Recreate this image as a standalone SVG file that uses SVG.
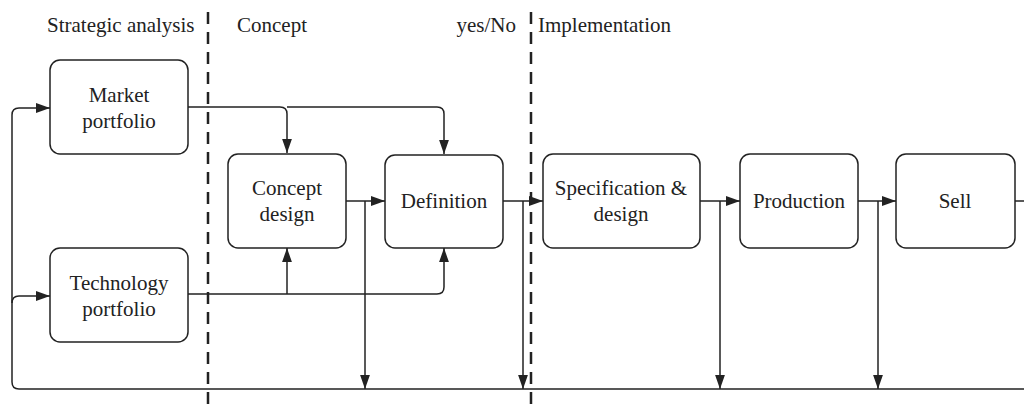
<svg xmlns="http://www.w3.org/2000/svg" width="1024" height="405" viewBox="0 0 1024 405">
<style>
text{font-family:"Liberation Serif","Times New Roman",serif;font-size:21px;fill:#222;}
.n rect{fill:#fff;stroke:#222;stroke-width:1.5;}
.n text{text-anchor:middle;}
.c path{fill:none;stroke:#222;stroke-width:1.5;}
.d{stroke:#222;stroke-width:2.5;stroke-dasharray:12 8;}
</style>
<defs>
<marker id="b" viewBox="0 0 10 10" refX="10" refY="5" markerWidth="14" markerHeight="14" markerUnits="userSpaceOnUse" orient="auto">
<path d="M0,1.5 L10,5 L0,8.5 z" fill="#222"/>
</marker>
</defs>
<g id="headers">
<text x="47" y="32">Strategic analysis</text>
<text x="237" y="32">Concept</text>
<text x="516" y="32" text-anchor="end">yes/No</text>
<text x="538" y="32">Implementation</text>
</g>
<g id="dividers">
<line class="d" x1="208" y1="12" x2="208" y2="405"/>
<line class="d" x1="531" y1="12" x2="531" y2="405"/>
</g>
<g class="c" id="connectors">
<path d="M188,107 H280 Q287,107 287,114 V153" marker-end="url(#b)"/>
<path d="M287,107 H437 Q444,107 444,114 V154" marker-end="url(#b)"/>
<path d="M188,294 H437 Q444,294 444,287 V248" marker-end="url(#b)"/>
<path d="M287,294 V248" marker-end="url(#b)"/>
<path d="M346,201 H385" marker-end="url(#b)"/>
<path d="M365,201 V389" marker-end="url(#b)"/>
<path d="M503,201 H543" marker-end="url(#b)"/>
<path d="M523,201 V389" marker-end="url(#b)"/>
<path d="M700,201 H740" marker-end="url(#b)"/>
<path d="M720,201 V389" marker-end="url(#b)"/>
<path d="M858,201 H896" marker-end="url(#b)"/>
<path d="M878,201 V389" marker-end="url(#b)"/>
<path d="M1015,201 H1024"/>
<path d="M1024,389 H19 Q12,389 12,382 V303 Q12,296 19,296 H50" marker-end="url(#b)"/>
<path d="M12,303 V115 Q12,108 19,108 H50" marker-end="url(#b)"/>
</g>
<g class="n" id="market">
<rect x="50" y="60" width="138" height="94" rx="10"/>
<text x="119" y="102">Market</text>
<text x="119" y="128">portfolio</text>
</g>
<g class="n" id="technology">
<rect x="50" y="248" width="138" height="94" rx="10"/>
<text x="119" y="290">Technology</text>
<text x="119" y="316">portfolio</text>
</g>
<g class="n" id="concept">
<rect x="228" y="154" width="118" height="94" rx="10"/>
<text x="287" y="195">Concept</text>
<text x="287" y="221">design</text>
</g>
<g class="n" id="definition">
<rect x="385" y="155" width="118" height="93" rx="10"/>
<text x="444" y="208">Definition</text>
</g>
<g class="n" id="spec">
<rect x="543" y="154" width="157" height="94" rx="10"/>
<text x="621" y="195">Specification &amp;</text>
<text x="621" y="221">design</text>
</g>
<g class="n" id="production">
<rect x="740" y="154" width="118" height="94" rx="10"/>
<text x="799" y="208">Production</text>
</g>
<g class="n" id="sell">
<rect x="896" y="154" width="119" height="94" rx="10"/>
<text x="955" y="208">Sell</text>
</g>
</svg>
